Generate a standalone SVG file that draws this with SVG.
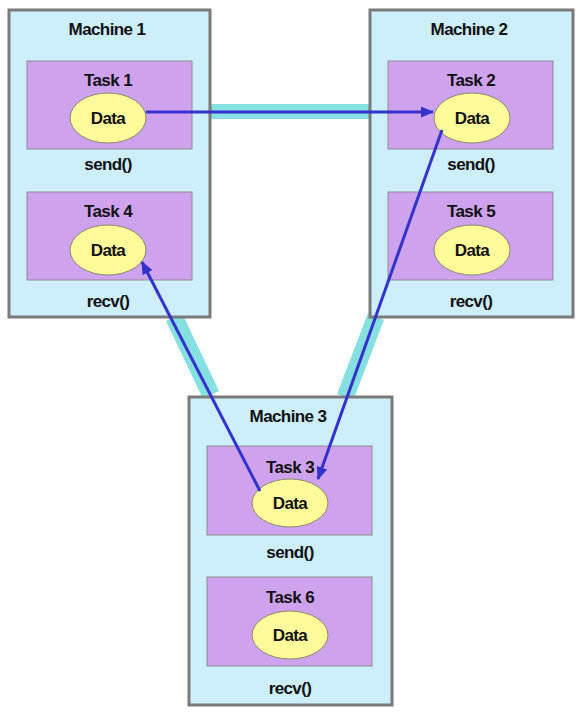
<svg xmlns="http://www.w3.org/2000/svg" width="581" height="713" viewBox="0 0 581 713">
  <defs>
    <style>
      .machine { fill: #cdeefc; stroke: #7a7a7a; stroke-width: 3; }
      .task { fill: #cfa2ee; stroke: #8c8c8c; stroke-width: 1; }
      .data { fill: #fffb9a; stroke: #8a8a6a; stroke-width: 1; }
      .link { fill: #86e0e2; }
      .flow { stroke: #3333cc; stroke-width: 3; fill: none; marker-end: url(#head); }
      text { font-family: "Liberation Sans", Arial, sans-serif; font-weight: bold; font-size: 17px; fill: #111; text-anchor: middle; letter-spacing: -0.6px; }
    </style>
    <marker id="head" viewBox="0 0 13 11" refX="12" refY="5.5" markerWidth="13" markerHeight="11" markerUnits="userSpaceOnUse" orient="auto">
      <path d="M0,0 L13,5.5 L0,11 Z" fill="#3333cc"/>
    </marker>
  </defs>

  <!-- network links between machines -->
  <g id="links">
    <rect class="link" x="205" y="104" width="170" height="15"/>
    <polygon class="link" points="166,321 182,313 219,391 203,399"/>
    <polygon class="link" points="368,313 384,320 353,401 337,394"/>
  </g>

  <g id="machine1">
    <rect class="machine" x="9" y="10" width="201" height="307"/>
    <text x="107" y="35">Machine 1</text>
    <g id="task1">
      <rect class="task" x="27" y="61" width="165" height="88"/>
      <text x="108" y="86">Task 1</text>
      <ellipse class="data" cx="108" cy="118" rx="38" ry="25"/>
      <text x="108" y="124">Data</text>
    </g>
    <text x="108" y="170">send()</text>
    <g id="task4">
      <rect class="task" x="27" y="192" width="165" height="88"/>
      <text x="108" y="217">Task 4</text>
      <ellipse class="data" cx="108" cy="250" rx="38" ry="25"/>
      <text x="108" y="256">Data</text>
    </g>
    <text x="108" y="307">recv()</text>
  </g>

  <g id="machine2">
    <rect class="machine" x="370" y="10" width="203" height="307"/>
    <text x="469" y="35">Machine 2</text>
    <g id="task2">
      <rect class="task" x="388" y="61" width="165" height="88"/>
      <text x="471" y="86">Task 2</text>
      <ellipse class="data" cx="472" cy="118" rx="38" ry="25"/>
      <text x="472" y="124">Data</text>
    </g>
    <text x="471" y="170">send()</text>
    <g id="task5">
      <rect class="task" x="388" y="192" width="165" height="88"/>
      <text x="471" y="217">Task 5</text>
      <ellipse class="data" cx="472" cy="250" rx="38" ry="25"/>
      <text x="472" y="256">Data</text>
    </g>
    <text x="471" y="307">recv()</text>
  </g>

  <g id="machine3">
    <rect class="machine" x="189" y="397" width="203" height="308"/>
    <text x="288" y="422">Machine 3</text>
    <g id="task3">
      <rect class="task" x="207" y="446" width="165" height="89"/>
      <text x="290" y="473">Task 3</text>
      <ellipse class="data" cx="290" cy="503" rx="38" ry="24"/>
      <text x="290" y="509">Data</text>
    </g>
    <text x="290" y="558">send()</text>
    <g id="task6">
      <rect class="task" x="207" y="577" width="165" height="89"/>
      <text x="290" y="603">Task 6</text>
      <ellipse class="data" cx="290" cy="635" rx="38" ry="24"/>
      <text x="290" y="641">Data</text>
    </g>
    <text x="290" y="694">recv()</text>
  </g>

  <!-- data transfers -->
  <g id="connectors">
    <line class="flow" x1="146" y1="112" x2="433" y2="112"/>
    <line class="flow" x1="442" y1="130" x2="318" y2="479"/>
    <line class="flow" x1="260" y1="491" x2="142" y2="262"/>
  </g>
</svg>
